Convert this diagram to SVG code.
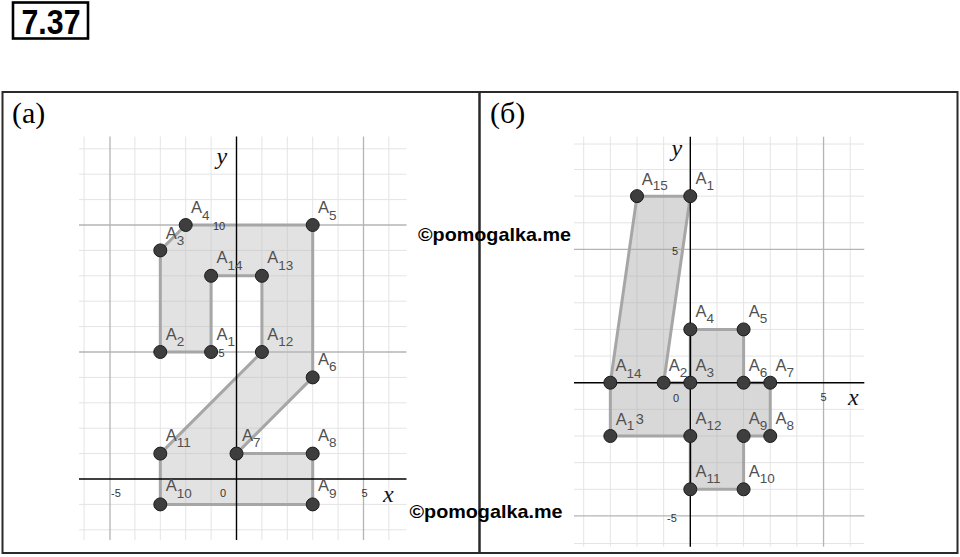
<svg xmlns="http://www.w3.org/2000/svg" width="960" height="557" viewBox="0 0 960 557">
<style>
.minor{stroke:#e4e4e4;stroke-width:1}
.major{stroke:#b4b4b4;stroke-width:1.3}
.axis{stroke:#000;stroke-width:1.4}
.fig{stroke:#a6a6a6;stroke-width:3;stroke-linejoin:round}
.pt{fill:#3e3e3e;stroke:#1c1c1c;stroke-width:1}
.lbl{font-family:"Liberation Sans",Arial,sans-serif;font-size:16.5px;fill:#505050}
.sub{font-size:13.5px}
.tick{font-family:"Liberation Sans",Arial,sans-serif;font-size:11px;fill:#333}
.axl{font-family:"Liberation Serif","Times New Roman",serif;font-style:italic;font-size:24px;fill:#111}
.pan{font-family:"Liberation Serif","Times New Roman",serif;font-size:30px;fill:#000}
.wm{font-family:"Liberation Sans",Arial,sans-serif;font-weight:bold;font-size:19px;fill:#000}
</style>
<rect width="960" height="557" fill="#fff"/>
<g id="title">
<rect x="13" y="2.5" width="75" height="36" fill="none" stroke="#000" stroke-width="2.6"/>
<text x="21.5" y="33.5" font-family="'Liberation Sans',Arial,sans-serif" font-weight="bold" font-size="35" textLength="59" lengthAdjust="spacingAndGlyphs">7.37</text>
</g>
<g id="frame" fill="none" stroke="#2a2a2a" stroke-width="2">
<rect x="2.5" y="92" width="955" height="461"/>
<line x1="479.5" y1="92" x2="479.5" y2="553" stroke-width="2.5"/>
</g>
<text class="pan" x="12" y="123">(a)</text>
<text class="pan" x="490" y="123">(б)</text>

<g id="gridA">
<g class="minor">
<line x1="84.1" y1="136.5" x2="84.1" y2="540"/>
<line x1="134.9" y1="136.5" x2="134.9" y2="540"/>
<line x1="160.3" y1="136.5" x2="160.3" y2="540"/>
<line x1="185.7" y1="136.5" x2="185.7" y2="540"/>
<line x1="211.1" y1="136.5" x2="211.1" y2="540"/>
<line x1="261.9" y1="136.5" x2="261.9" y2="540"/>
<line x1="287.3" y1="136.5" x2="287.3" y2="540"/>
<line x1="312.7" y1="136.5" x2="312.7" y2="540"/>
<line x1="338.1" y1="136.5" x2="338.1" y2="540"/>
<line x1="388.9" y1="136.5" x2="388.9" y2="540"/>
<line x1="79" y1="529.8" x2="406.5" y2="529.8"/>
<line x1="79" y1="504.4" x2="406.5" y2="504.4"/>
<line x1="79" y1="453.6" x2="406.5" y2="453.6"/>
<line x1="79" y1="428.2" x2="406.5" y2="428.2"/>
<line x1="79" y1="402.8" x2="406.5" y2="402.8"/>
<line x1="79" y1="377.4" x2="406.5" y2="377.4"/>
<line x1="79" y1="326.6" x2="406.5" y2="326.6"/>
<line x1="79" y1="301.2" x2="406.5" y2="301.2"/>
<line x1="79" y1="275.8" x2="406.5" y2="275.8"/>
<line x1="79" y1="250.4" x2="406.5" y2="250.4"/>
<line x1="79" y1="199.6" x2="406.5" y2="199.6"/>
<line x1="79" y1="174.2" x2="406.5" y2="174.2"/>
<line x1="79" y1="148.8" x2="406.5" y2="148.8"/>
</g>
<g class="major">
<line x1="110" y1="136.5" x2="110" y2="540"/>
<line x1="363.5" y1="136.5" x2="363.5" y2="540"/>
<line x1="79" y1="352" x2="406.5" y2="352"/>
<line x1="79" y1="225" x2="406.5" y2="225"/>
</g>
</g>

<g id="gridB">
<g class="minor">
<line x1="583.7" y1="136.7" x2="583.7" y2="546.7"/>
<line x1="610.35" y1="136.7" x2="610.35" y2="546.7"/>
<line x1="637" y1="136.7" x2="637" y2="546.7"/>
<line x1="663.65" y1="136.7" x2="663.65" y2="546.7"/>
<line x1="716.95" y1="136.7" x2="716.95" y2="546.7"/>
<line x1="743.6" y1="136.7" x2="743.6" y2="546.7"/>
<line x1="770.25" y1="136.7" x2="770.25" y2="546.7"/>
<line x1="796.9" y1="136.7" x2="796.9" y2="546.7"/>
<line x1="850.2" y1="136.7" x2="850.2" y2="546.7"/>
<line x1="574" y1="144" x2="864.3" y2="144"/>
<line x1="574" y1="169.5" x2="864.3" y2="169.5"/>
<line x1="574" y1="196.15" x2="864.3" y2="196.15"/>
<line x1="574" y1="222.8" x2="864.3" y2="222.8"/>
<line x1="574" y1="276.1" x2="864.3" y2="276.1"/>
<line x1="574" y1="302.75" x2="864.3" y2="302.75"/>
<line x1="574" y1="329.4" x2="864.3" y2="329.4"/>
<line x1="574" y1="356.05" x2="864.3" y2="356.05"/>
<line x1="574" y1="409.35" x2="864.3" y2="409.35"/>
<line x1="574" y1="436" x2="864.3" y2="436"/>
<line x1="574" y1="462.65" x2="864.3" y2="462.65"/>
<line x1="574" y1="489.3" x2="864.3" y2="489.3"/>
<line x1="574" y1="543.5" x2="864.3" y2="543.5"/>
</g>
<g class="major">
<line x1="823.55" y1="136.7" x2="823.55" y2="546.7"/>
<line x1="574" y1="249.45" x2="864.3" y2="249.45"/>
<line x1="574" y1="515.95" x2="864.3" y2="515.95"/>
</g>
</g>

<g id="connectors">
<polygon id="figA" class="fig" fill="#b9b9b9" fill-opacity="0.42" points="211.1,352 160.3,352 160.3,250.4 185.7,225 312.7,225 312.7,377.4 236.5,453.6 312.7,453.6 312.7,504.4 160.3,504.4 160.3,453.6 261.9,352 261.9,275.8 211.1,275.8"/>
<polygon id="figB" class="fig" fill="#a8a8a8" fill-opacity="0.45" points="690.3,196.15 663.65,382.7 690.3,382.7 690.3,329.4 743.6,329.4 743.6,382.7 770.25,382.7 770.25,436 743.6,436 743.6,489.3 690.3,489.3 690.3,436 610.35,436 610.35,382.7 637,196.15"/>
</g>

<g id="axesA" class="axis">
<line x1="236.5" y1="136.5" x2="236.5" y2="540"/>
<line x1="79" y1="479" x2="406.5" y2="479"/>
</g>
<g id="axesB" class="axis">
<line x1="690.3" y1="136.7" x2="690.3" y2="546.7"/>
<line x1="574" y1="382.7" x2="864.3" y2="382.7"/>
</g>

<g id="ticksA" class="tick">
<text x="213" y="230">10</text>
<text x="218.5" y="357">5</text>
<text x="111" y="497">-5</text>
<text x="220" y="497">0</text>
<text x="361.5" y="497">5</text>
</g>
<g id="ticksB" class="tick">
<text x="672" y="254.5">5</text>
<text x="673" y="401.5">0</text>
<text x="820.5" y="400.5">5</text>
<text x="667" y="521.5">-5</text>
</g>
<text class="axl" x="216.5" y="164">y</text>
<text class="axl" x="383" y="501.5">x</text>
<text class="axl" x="671.5" y="156">y</text>
<text class="axl" x="848" y="405">x</text>

<g id="A1a"><circle class="pt" cx="211.1" cy="352" r="6.5"/><text class="lbl" x="216.5" y="339.5">A<tspan class="sub" dy="6.5">1</tspan></text></g>
<g id="A2a"><circle class="pt" cx="160.3" cy="352" r="6.5"/><text class="lbl" x="165.7" y="339.5">A<tspan class="sub" dy="6.5">2</tspan></text></g>
<g id="A3a"><circle class="pt" cx="160.3" cy="250.4" r="6.5"/><text class="lbl" x="165.7" y="238.5">A<tspan class="sub" dy="6">3</tspan></text></g>
<g id="A4a"><circle class="pt" cx="185.7" cy="225" r="6.5"/><text class="lbl" x="191.1" y="213.3">A<tspan class="sub" dy="6.7">4</tspan></text></g>
<g id="A5a"><circle class="pt" cx="312.7" cy="225" r="6.5"/><text class="lbl" x="318.1" y="213.3">A<tspan class="sub" dy="6.7">5</tspan></text></g>
<g id="A6a"><circle class="pt" cx="312.7" cy="377.4" r="6.5"/><text class="lbl" x="318.1" y="364.5">A<tspan class="sub" dy="6.5">6</tspan></text></g>
<g id="A7a"><circle class="pt" cx="236.5" cy="453.6" r="6.5"/><text class="lbl" x="241.9" y="440.5">A<tspan class="sub" dy="6.5">7</tspan></text></g>
<g id="A8a"><circle class="pt" cx="312.7" cy="453.6" r="6.5"/><text class="lbl" x="318.1" y="440.5">A<tspan class="sub" dy="6.5">8</tspan></text></g>
<g id="A9a"><circle class="pt" cx="312.7" cy="504.4" r="6.5"/><text class="lbl" x="318.1" y="490.5">A<tspan class="sub" dy="7.5">9</tspan></text></g>
<g id="A10a"><circle class="pt" cx="160.3" cy="504.4" r="6.5"/><text class="lbl" x="165.7" y="490.5">A<tspan class="sub" dy="7.8">10</tspan></text></g>
<g id="A11a"><circle class="pt" cx="160.3" cy="453.6" r="6.5"/><text class="lbl" x="165.7" y="440.5">A<tspan class="sub" dy="6.5">11</tspan></text></g>
<g id="A12a"><circle class="pt" cx="261.9" cy="352" r="6.5"/><text class="lbl" x="267.3" y="339.5">A<tspan class="sub" dy="6.5">12</tspan></text></g>
<g id="A13a"><circle class="pt" cx="261.9" cy="275.8" r="6.5"/><text class="lbl" x="267.3" y="263">A<tspan class="sub" dy="6.5">13</tspan></text></g>
<g id="A14a"><circle class="pt" cx="211.1" cy="275.8" r="6.5"/><text class="lbl" x="216.5" y="263">A<tspan class="sub" dy="6.5">14</tspan></text></g>

<g id="A1b"><circle class="pt" cx="690.3" cy="196.15" r="6.5"/><text class="lbl" x="695.5" y="184">A<tspan class="sub" dy="6">1</tspan></text></g>
<g id="A2b"><circle class="pt" cx="663.65" cy="382.7" r="6.5"/><text class="lbl" x="668.8" y="370.5">A<tspan class="sub" dy="6">2</tspan></text></g>
<g id="A3b"><circle class="pt" cx="690.3" cy="382.7" r="6.5"/><text class="lbl" x="695.5" y="370.5">A<tspan class="sub" dy="6">3</tspan></text></g>
<g id="A4b"><circle class="pt" cx="690.3" cy="329.4" r="6.5"/><text class="lbl" x="695.5" y="317">A<tspan class="sub" dy="6">4</tspan></text></g>
<g id="A5b"><circle class="pt" cx="743.6" cy="329.4" r="6.5"/><text class="lbl" x="748.8" y="317">A<tspan class="sub" dy="6">5</tspan></text></g>
<g id="A6b"><circle class="pt" cx="743.6" cy="382.7" r="6.5"/><text class="lbl" x="748.8" y="370.5">A<tspan class="sub" dy="6">6</tspan></text></g>
<g id="A7b"><circle class="pt" cx="770.25" cy="382.7" r="6.5"/><text class="lbl" x="775.5" y="370.5">A<tspan class="sub" dy="6">7</tspan></text></g>
<g id="A8b"><circle class="pt" cx="770.25" cy="436" r="6.5"/><text class="lbl" x="775.5" y="424">A<tspan class="sub" dy="6">8</tspan></text></g>
<g id="A9b"><circle class="pt" cx="743.6" cy="436" r="6.5"/><text class="lbl" x="748.8" y="424">A<tspan class="sub" dy="6">9</tspan></text></g>
<g id="A10b"><circle class="pt" cx="743.6" cy="489.3" r="6.5"/><text class="lbl" x="748.8" y="477">A<tspan class="sub" dy="6">10</tspan></text></g>
<g id="A11b"><circle class="pt" cx="690.3" cy="489.3" r="6.5"/><text class="lbl" x="695.5" y="477">A<tspan class="sub" dy="6">11</tspan></text></g>
<g id="A12b"><circle class="pt" cx="690.3" cy="436" r="6.5"/><text class="lbl" x="695.5" y="424">A<tspan class="sub" dy="6">12</tspan></text></g>
<g id="A13b"><circle class="pt" cx="610.35" cy="436" r="6.5"/><text class="lbl" x="615.8" y="424.5">A<tspan class="sub" dy="5.5">1</tspan><tspan dx="1.5" dy="-6" font-size="14.5">3</tspan></text></g>
<g id="A14b"><circle class="pt" cx="610.35" cy="382.7" r="6.5"/><text class="lbl" x="615.5" y="370.5">A<tspan class="sub" dy="7.5">14</tspan></text></g>
<g id="A15b"><circle class="pt" cx="637" cy="196.15" r="6.5"/><text class="lbl" x="641.8" y="184.5">A<tspan class="sub" dy="5.5">15</tspan></text></g>

<text class="wm" x="418" y="240.7" textLength="153" lengthAdjust="spacingAndGlyphs">©pomogalka.me</text>
<text class="wm" x="409.5" y="518.3" textLength="153" lengthAdjust="spacingAndGlyphs">©pomogalka.me</text>
</svg>
